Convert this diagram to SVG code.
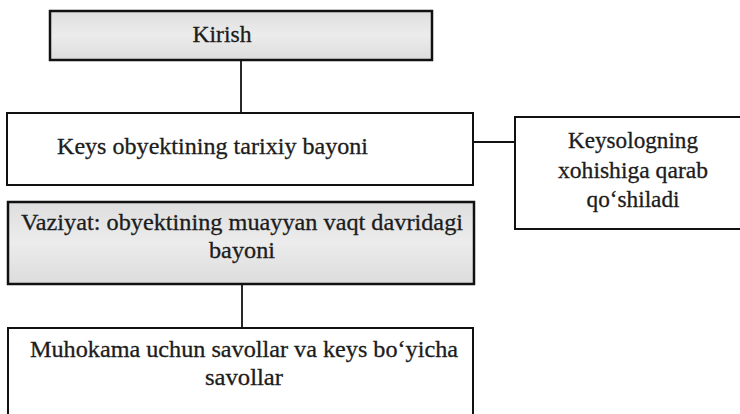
<svg xmlns="http://www.w3.org/2000/svg" width="740" height="414" viewBox="0 0 740 414">
  <defs>
    <linearGradient id="shade" x1="0" y1="0" x2="0" y2="1">
      <stop offset="0" stop-color="#dedede"/>
      <stop offset="0.5" stop-color="#ececec"/>
      <stop offset="1" stop-color="#dcdcdc"/>
    </linearGradient>
  </defs>
  <style>
    .box { fill: #ffffff; stroke: #111111; stroke-width: 2; }
    .shaded { fill: url(#shade); stroke: #111111; stroke-width: 2.5; }
    .lbl { font-family: "Liberation Serif", "Times New Roman", serif; font-size: 23px; fill: #1c1c1c; stroke: #1c1c1c; stroke-width: 0.3; }
    .mid { text-anchor: middle; }
    .conn { stroke: #111111; stroke-width: 1.8; fill: none; }
  </style>
  <rect x="0" y="0" width="740" height="414" fill="#ffffff"/>

  <g id="connectors">
    <line class="conn" x1="241" y1="60" x2="241" y2="113"/>
    <line class="conn" x1="473" y1="142" x2="515" y2="142"/>
    <line class="conn" x1="242" y1="284" x2="242" y2="328"/>
  </g>

  <g id="kirish">
    <rect class="shaded" x="50" y="11" width="382" height="49"/>
    <text class="lbl mid" x="222" y="42" textLength="59" lengthAdjust="spacingAndGlyphs">Kirish</text>
  </g>

  <g id="tarixiy">
    <rect class="box" x="7" y="113" width="466" height="72"/>
    <text class="lbl" x="57" y="154" textLength="311" lengthAdjust="spacingAndGlyphs">Keys obyektining tarixiy bayoni</text>
  </g>

  <g id="keysolog">
    <rect class="box" x="515" y="117" width="228" height="112"/>
    <text class="lbl mid" x="633" y="148" textLength="130" lengthAdjust="spacingAndGlyphs">Keysologning</text>
    <text class="lbl mid" x="633" y="178" textLength="150" lengthAdjust="spacingAndGlyphs">xohishiga qarab</text>
    <text class="lbl mid" x="633" y="207" textLength="93" lengthAdjust="spacingAndGlyphs">qo‘shiladi</text>
  </g>

  <g id="vaziyat">
    <rect class="shaded" x="8" y="202" width="466" height="82"/>
    <text class="lbl" x="21" y="230" textLength="442" lengthAdjust="spacingAndGlyphs">Vaziyat: obyektining muayyan vaqt davridagi</text>
    <text class="lbl mid" x="242" y="258" textLength="66" lengthAdjust="spacingAndGlyphs">bayoni</text>
  </g>

  <g id="muhokama">
    <rect class="box" x="8" y="328" width="465" height="92"/>
    <text class="lbl" x="30" y="357" textLength="428" lengthAdjust="spacingAndGlyphs">Muhokama uchun savollar va keys bo‘yicha</text>
    <text class="lbl mid" x="244" y="385" textLength="78" lengthAdjust="spacingAndGlyphs">savollar</text>
  </g>
</svg>
